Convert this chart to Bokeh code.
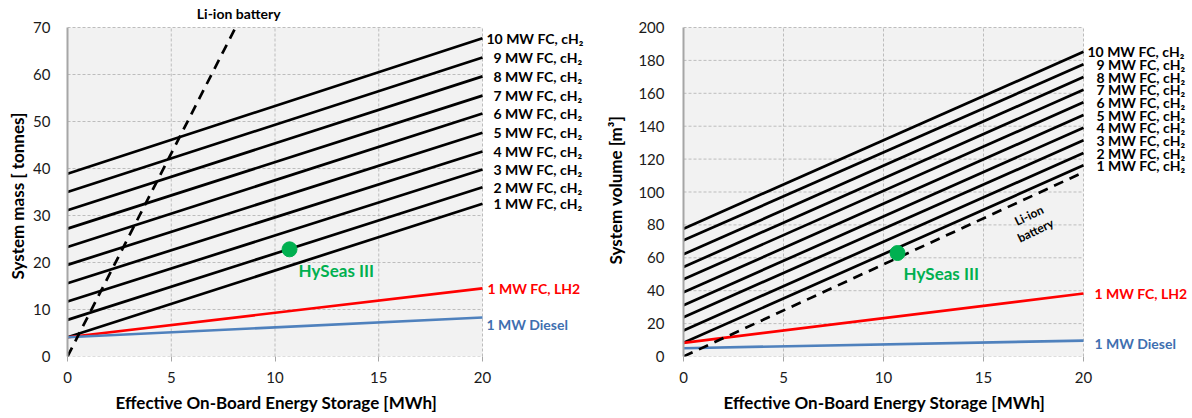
from bokeh.plotting import figure
from bokeh.models import ColumnDataSource, LabelSet, Label, Range1d, FixedTicker, Title
from bokeh.layouts import row
from bokeh.embed import file_html
from bokeh.resources import INLINE
from bokeh.core.properties import value

# ---------------- data ----------------
fc_sizes = [1, 2, 3, 4, 5, 6, 7, 8, 9, 10]
energy_ends = [0, 20]

# left chart: system mass [t]
mass_fc_start = [4.1, 7.8, 11.7, 15.6, 19.5, 23.3, 27.2, 31.1, 35.0, 38.9]
mass_fc_end = [32.5, 36.0, 39.8, 43.6, 47.6, 51.7, 55.5, 59.6, 63.6, 67.7]
mass_lh2 = [4.1, 14.5]
mass_diesel = [4.1, 8.3]
liion_mass_energy = [0, 8.1]
liion_mass = [0, 70]
hyseas_energy = [10.7]
hyseas_mass = [22.8]

# right chart: system volume [m3]
vol_fc_start = [8.3, 15.8, 23.9, 31.2, 39.0, 46.9, 54.4, 62.1, 70.6, 77.7]
vol_fc_end = [116.2, 123.7, 131.4, 139.1, 146.8, 154.5, 162.2, 169.9, 177.6, 185.2]
vol_lh2 = [8.3, 38.3]
vol_diesel = [5.0, 9.7]
liion_vol_energy = [0, 20]
liion_vol = [0, 112]
hyseas_vol = [62.9]

x_ticks = [0, 5, 10, 15, 20]
mass_ticks = [0, 10, 20, 30, 40, 50, 60, 70]
vol_ticks = [0, 20, 40, 60, 80, 100, 120, 140, 160, 180, 200]

X_TITLE = "Effective On-Board Energy Storage [MWh]"

FONT = "Lato"
GREEN = "#00B050"
RED = "#FF0000"
BLUE = "#4F81BD"
BLUE_TXT = "#3F6FB0"
GRID = "#BDBDBD"

PLOT_W = {"mass": 415, "vol": 400}   # pixel width of the 0..20 axis area
PLOT_H = 329                          # pixel height of the 0..ymax axis area


def make_fig(left, frame_w, plot_w, yticks, ylabel, ytick_standoff,
             ytitle_offset, ytitle_standoff, xtitle_offset):
    xmax = x_ticks[-1]
    ymax = yticks[-1]
    frame_h = 352
    x_end = frame_w * xmax / plot_w
    y_end = frame_h * ymax / PLOT_H
    p = figure(x_range=Range1d(0, x_end), y_range=Range1d(0, y_end),
               output_backend="svg", toolbar_location=None,
               min_border_left=left, min_border_right=0,
               min_border_top=4, min_border_bottom=62)
    p.frame_width = frame_w
    p.frame_height = frame_h
    p.background_fill_color = "white"
    p.border_fill_color = "white"
    p.outline_line_color = None
    p.xgrid.visible = False
    p.ygrid.visible = False

    # plot area background and dashed grid, limited to the axis extent
    p.quad(left=[0], right=[xmax], bottom=[0], top=[ymax], fill_color="#F2F2F2",
           line_color=None, level="image")
    p.segment(x0=x_ticks, y0=[0] * len(x_ticks), x1=x_ticks, y1=[ymax] * len(x_ticks),
              line_color=GRID, line_dash="3 2", line_width=1, level="underlay")
    p.segment(x0=[0] * len(yticks), y0=yticks, x1=[xmax] * len(yticks), y1=yticks,
              line_color=GRID, line_dash="3 2", line_width=1, level="underlay")

    p.xaxis.ticker = FixedTicker(ticks=x_ticks)
    p.yaxis.ticker = FixedTicker(ticks=yticks)
    p.xaxis.bounds = (0, xmax)
    p.yaxis.bounds = (0, ymax)

    for ax in (p.xaxis[0], p.yaxis[0]):
        ax.major_label_text_font = FONT
        ax.major_label_text_font_size = "15px"
        ax.major_label_text_color = "#1a1a1a"
        ax.minor_tick_line_color = None

    p.xaxis.axis_line_color = None
    p.xaxis.major_tick_line_color = "#A6A6A6"
    p.xaxis.major_tick_out = 5
    p.xaxis.major_tick_in = 0
    p.xaxis.major_label_standoff = 10

    p.yaxis.axis_line_color = "#A6A6A6"
    p.yaxis.axis_line_width = 2
    p.yaxis.major_tick_line_color = None
    p.yaxis.major_tick_out = 0
    p.yaxis.major_label_standoff = ytick_standoff

    # axis titles placed relative to the 0..20 / 0..ymax part of the frame
    p.add_layout(Title(text=X_TITLE, align="left", offset=xtitle_offset, standoff=8,
                       text_font=FONT, text_font_style="bold", text_font_size="17px",
                       text_color="black"), "below")
    p.add_layout(Title(text=ylabel, align="left", offset=ytitle_offset,
                       standoff=ytitle_standoff, text_font=FONT, text_font_style="bold",
                       text_font_size="17px", text_color="black"), "left")
    return p


def fc_labels(p, ends, xoff_two, xoff_one, size):
    src = ColumnDataSource(dict(
        x=[x_ticks[-1]] * len(fc_sizes),
        y=ends,
        text=["%d MW FC, cH\u2082" % n for n in fc_sizes],
        xoff=[xoff_two if n >= 10 else xoff_one for n in fc_sizes],
    ))
    p.add_layout(LabelSet(x="x", y="y", text="text", source=src, x_offset="xoff",
                          text_font=value(FONT), text_font_style="bold",
                          text_font_size=value(size), text_color="black",
                          text_baseline="middle", text_align="left"))


def side_label(p, y, text, color, xoff, yoff):
    p.add_layout(Label(x=x_ticks[-1], y=y, x_offset=xoff, y_offset=yoff, text=text,
                       text_font=FONT, text_font_style="bold", text_font_size="14px",
                       text_color=color, text_baseline="middle", text_align="left"))


def hyseas_label(p, y, xoff, yoff):
    p.add_layout(Label(x=hyseas_energy[0], y=y, x_offset=xoff, y_offset=yoff,
                       text="HySeas III", text_font=FONT, text_font_style="bold",
                       text_font_size="17px", text_color=GREEN, text_baseline="middle"))


# ---------------- left chart ----------------
p1 = make_fig(67, 525, PLOT_W["mass"], mass_ticks, "System mass [ tonnes]", 17,
              77, 6, 48)
p1.multi_line(xs=[energy_ends] * len(fc_sizes),
              ys=[[a, b] for a, b in zip(mass_fc_start, mass_fc_end)],
              line_color="black", line_width=2.7)
p1.line(energy_ends, mass_lh2, line_color=RED, line_width=2.7)
p1.line(energy_ends, mass_diesel, line_color=BLUE, line_width=2.7)
p1.line(liion_mass_energy, liion_mass, line_color="black", line_width=2.7, line_dash="10 7")
p1.scatter(hyseas_energy, hyseas_mass, size=15, color=GREEN)
hyseas_label(p1, hyseas_mass[0], 9, -21)
fc_labels(p1, mass_fc_end, 4, 11, "14px")
side_label(p1, mass_lh2[1], "1 MW FC, LH2", RED, 5, 0)
side_label(p1, mass_diesel[1], "1 MW Diesel", BLUE_TXT, 4, -7)
p1.add_layout(Label(x=8.25, y=72.98, text="Li-ion battery", text_font=FONT,
                    text_font_style="bold", text_font_size="14px", text_color="black",
                    text_baseline="middle", text_align="center"))

# ---------------- right chart ----------------
p2 = make_fig(91, 508, PLOT_W["vol"], vol_ticks, "System volume [m\u00b3]", 19,
              92, 20, 40)
p2.multi_line(xs=[energy_ends] * len(fc_sizes),
              ys=[[a, b] for a, b in zip(vol_fc_start, vol_fc_end)],
              line_color="black", line_width=2.7)
p2.line(energy_ends, vol_lh2, line_color=RED, line_width=2.7)
p2.line(energy_ends, vol_diesel, line_color=BLUE, line_width=2.7)
p2.line(liion_vol_energy, liion_vol, line_color="black", line_width=2.7, line_dash="10 7")
p2.scatter(hyseas_energy, hyseas_vol, size=15, color=GREEN)
hyseas_label(p2, hyseas_vol[0], 6, -20)
fc_labels(p2, vol_fc_end, 4, 13, "14px")
side_label(p2, vol_lh2[1], "1 MW FC, LH2", RED, 11, 0)
side_label(p2, vol_diesel[1], "1 MW Diesel", BLUE_TXT, 11, -3)
p2.add_layout(Label(x=17.27, y=85.8, text="Li-ion", angle=0.45, text_font=FONT,
                    text_font_style="bold", text_font_size="12px", text_color="black",
                    text_baseline="middle", text_align="center"))
p2.add_layout(Label(x=17.6, y=76.7, text="battery", angle=0.45, text_font=FONT,
                    text_font_style="bold", text_font_size="12px", text_color="black",
                    text_baseline="middle", text_align="center"))

layout = row(p1, p2)
open("out.html", "w").write(file_html(layout, INLINE))
